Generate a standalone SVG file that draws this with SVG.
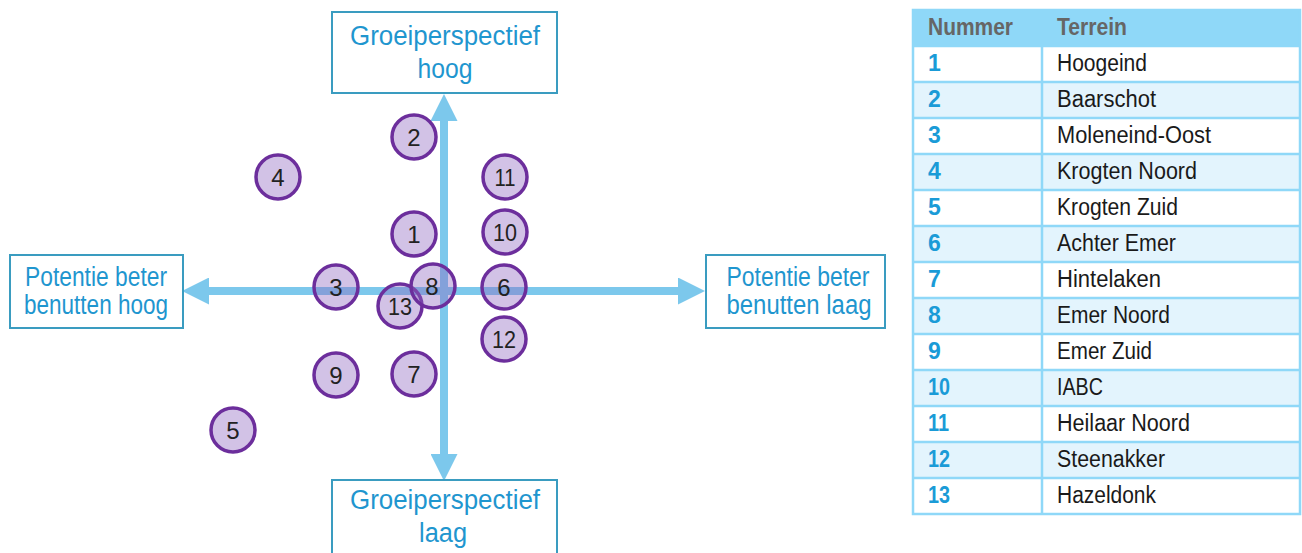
<svg xmlns="http://www.w3.org/2000/svg" width="1302" height="553" viewBox="0 0 1302 553">
  <style>
    .box { fill: #ffffff; stroke: #3a9cc0; stroke-width: 2; }
    .lbl { font-family: "Liberation Sans", Arial, sans-serif; font-size: 27px; fill: #1f96cf; text-anchor: middle; }
    .axis { stroke: #7cc8ec; stroke-width: 8; fill: none; }
    .site circle { fill: #8e66c0; fill-opacity: 0.4; stroke: #6c2e9c; stroke-width: 3.5; }
    .site text { font-family: "Liberation Sans", Arial, sans-serif; font-size: 24px; fill: #222; text-anchor: middle; }
    .hdr { font-family: "Liberation Sans", Arial, sans-serif; font-size: 23px; font-weight: bold; fill: #666; }
    .num { font-family: "Liberation Sans", Arial, sans-serif; font-size: 23px; font-weight: bold; fill: #1a9bd7; }
    .name { font-family: "Liberation Sans", Arial, sans-serif; font-size: 23px; fill: #1a1a1a; }
    .grid { stroke: #8fd8f8; stroke-width: 2.5; fill: none; }
  </style>
  <defs>
    <marker id="head" viewBox="0 0 27 27" markerUnits="userSpaceOnUse" markerWidth="27" markerHeight="27" refX="17" refY="13.5" orient="auto-start-reverse">
      <path d="M0,0 L27,13.5 L0,27 z" fill="#7cc8ec"/>
    </marker>
  </defs>

  <rect width="1302" height="553" fill="#ffffff"/>

  <!-- axes -->
  <g id="connectors">
    <line class="axis" x1="444" y1="104" x2="444" y2="471" marker-start="url(#head)" marker-end="url(#head)"/>
    <line class="axis" x1="192" y1="291" x2="695" y2="291" marker-start="url(#head)" marker-end="url(#head)"/>
  </g>

  <!-- axis end labels -->
  <g id="top-label">
    <rect class="box" x="332" y="12" width="225" height="81"/>
    <text class="lbl" x="445" y="45" textLength="190" lengthAdjust="spacingAndGlyphs">Groeiperspectief</text>
    <text class="lbl" x="445" y="78" textLength="55" lengthAdjust="spacingAndGlyphs">hoog</text>
  </g>
  <g id="bottom-label">
    <rect class="box" x="332" y="480" width="225" height="90"/>
    <text class="lbl" x="445" y="509" textLength="190" lengthAdjust="spacingAndGlyphs">Groeiperspectief</text>
    <text class="lbl" x="443" y="542" textLength="48" lengthAdjust="spacingAndGlyphs">laag</text>
  </g>
  <g id="left-label">
    <rect class="box" x="10" y="255" width="173" height="73"/>
    <text class="lbl" x="96" y="286" textLength="142" lengthAdjust="spacingAndGlyphs">Potentie beter</text>
    <text class="lbl" x="96" y="314" textLength="144" lengthAdjust="spacingAndGlyphs">benutten hoog</text>
  </g>
  <g id="right-label">
    <rect class="box" x="706" y="255" width="179" height="73"/>
    <text class="lbl" x="798" y="286" textLength="143" lengthAdjust="spacingAndGlyphs">Potentie beter</text>
    <text class="lbl" x="799" y="314" textLength="145" lengthAdjust="spacingAndGlyphs">benutten laag</text>
  </g>

  <!-- sites -->
  <g id="site-2" class="site"><circle cx="414" cy="137" r="22"/><text x="414" y="146">2</text></g>
  <g id="site-4" class="site"><circle cx="278" cy="177" r="22"/><text x="278" y="186">4</text></g>
  <g id="site-11" class="site"><circle cx="505" cy="177" r="22"/><text x="505" y="186" textLength="21" lengthAdjust="spacingAndGlyphs">11</text></g>
  <g id="site-1" class="site"><circle cx="414" cy="234" r="22"/><text x="414" y="243">1</text></g>
  <g id="site-10" class="site"><circle cx="505" cy="232" r="22"/><text x="505" y="241" textLength="24" lengthAdjust="spacingAndGlyphs">10</text></g>
  <g id="site-3" class="site"><circle cx="336" cy="287" r="22"/><text x="336" y="296">3</text></g>
  <g id="site-6" class="site"><circle cx="504" cy="287" r="22"/><text x="504" y="296">6</text></g>
  <g id="site-13" class="site"><circle cx="400" cy="306" r="22"/><text x="400" y="315" textLength="24" lengthAdjust="spacingAndGlyphs">13</text></g>
  <g id="site-8" class="site"><circle cx="433" cy="286" r="22"/><text x="432" y="295">8</text></g>
  <g id="site-12" class="site"><circle cx="504" cy="339" r="22"/><text x="504" y="348" textLength="24" lengthAdjust="spacingAndGlyphs">12</text></g>
  <g id="site-9" class="site"><circle cx="336" cy="375" r="22"/><text x="336" y="384">9</text></g>
  <g id="site-7" class="site"><circle cx="414" cy="374" r="22"/><text x="414" y="383">7</text></g>
  <g id="site-5" class="site"><circle cx="233" cy="430" r="22"/><text x="233" y="439">5</text></g>

  <!-- legend table -->
  <g id="legend">
    <rect x="913" y="10" width="387" height="36" fill="#8fd8f8"/>
    <rect x="913" y="82" width="387" height="36" fill="#e3f4fd"/>
    <rect x="913" y="154" width="387" height="36" fill="#e3f4fd"/>
    <rect x="913" y="226" width="387" height="36" fill="#e3f4fd"/>
    <rect x="913" y="298" width="387" height="36" fill="#e3f4fd"/>
    <rect x="913" y="370" width="387" height="36" fill="#e3f4fd"/>
    <rect x="913" y="442" width="387" height="36" fill="#e3f4fd"/>
    <g class="grid">
      <rect x="913" y="10" width="387" height="504"/>
      <line x1="1042" y1="46" x2="1042" y2="514"/>
      <path d="M913,46H1300M913,82H1300M913,118H1300M913,154H1300M913,190H1300M913,226H1300M913,262H1300M913,298H1300M913,334H1300M913,370H1300M913,406H1300M913,442H1300M913,478H1300"/>
    </g>
    <text class="hdr" x="928" y="35" textLength="85" lengthAdjust="spacingAndGlyphs">Nummer</text>
    <text class="hdr" x="1057" y="35" textLength="70" lengthAdjust="spacingAndGlyphs">Terrein</text>

    <text class="num" x="928" y="71">1</text>
    <text class="num" x="928" y="107">2</text>
    <text class="num" x="928" y="143">3</text>
    <text class="num" x="928" y="179">4</text>
    <text class="num" x="928" y="215">5</text>
    <text class="num" x="928" y="251">6</text>
    <text class="num" x="928" y="287">7</text>
    <text class="num" x="928" y="323">8</text>
    <text class="num" x="928" y="359">9</text>
    <text class="num" x="928" y="395" textLength="22" lengthAdjust="spacingAndGlyphs">10</text>
    <text class="num" x="928" y="431" textLength="21" lengthAdjust="spacingAndGlyphs">11</text>
    <text class="num" x="928" y="467" textLength="22" lengthAdjust="spacingAndGlyphs">12</text>
    <text class="num" x="928" y="503" textLength="22" lengthAdjust="spacingAndGlyphs">13</text>

    <text class="name" x="1057" y="71" textLength="90" lengthAdjust="spacingAndGlyphs">Hoogeind</text>
    <text class="name" x="1057" y="107" textLength="99" lengthAdjust="spacingAndGlyphs">Baarschot</text>
    <text class="name" x="1057" y="143" textLength="154" lengthAdjust="spacingAndGlyphs">Moleneind-Oost</text>
    <text class="name" x="1057" y="179" textLength="140" lengthAdjust="spacingAndGlyphs">Krogten Noord</text>
    <text class="name" x="1057" y="215" textLength="121" lengthAdjust="spacingAndGlyphs">Krogten Zuid</text>
    <text class="name" x="1057" y="251" textLength="119" lengthAdjust="spacingAndGlyphs">Achter Emer</text>
    <text class="name" x="1057" y="287" textLength="104" lengthAdjust="spacingAndGlyphs">Hintelaken</text>
    <text class="name" x="1057" y="323" textLength="113" lengthAdjust="spacingAndGlyphs">Emer Noord</text>
    <text class="name" x="1057" y="359" textLength="95" lengthAdjust="spacingAndGlyphs">Emer Zuid</text>
    <text class="name" x="1057" y="395" textLength="46" lengthAdjust="spacingAndGlyphs">IABC</text>
    <text class="name" x="1057" y="431" textLength="133" lengthAdjust="spacingAndGlyphs">Heilaar Noord</text>
    <text class="name" x="1057" y="467" textLength="108" lengthAdjust="spacingAndGlyphs">Steenakker</text>
    <text class="name" x="1057" y="503" textLength="99" lengthAdjust="spacingAndGlyphs">Hazeldonk</text>
  </g>
</svg>
